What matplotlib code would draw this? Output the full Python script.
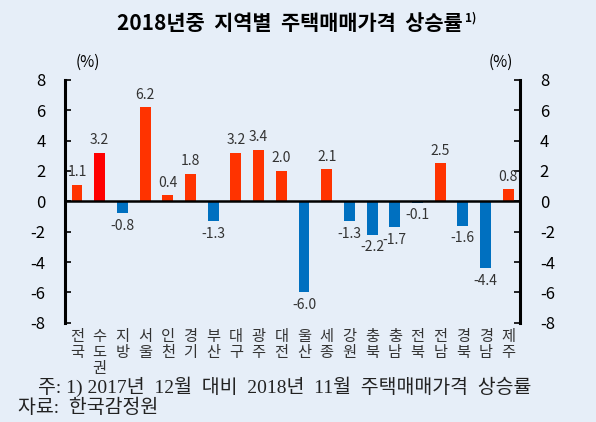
import matplotlib
matplotlib.use("Agg")
import matplotlib.pyplot as plt
import numpy as np

plt.rcParams['font.family'] = ['Noto Sans CJK KR', 'DejaVu Sans']

REGIONS = ["전국", "수도권", "지방", "서울", "인천", "경기", "부산", "대구", "광주", "대전",
           "울산", "세종", "강원", "충북", "충남", "전북", "전남", "경북", "경남", "제주"]
RATES = [1.1, 3.2, -0.8, 6.2, 0.4, 1.8, -1.3, 3.2, 3.4, 2.0,
         -6.0, 2.1, -1.3, -2.2, -1.7, -0.1, 2.5, -1.6, -4.4, 0.8]
Y_TICKS = [-8, -6, -4, -2, 0, 2, 4, 6, 8]

TITLE = "2018년중  지역별  주택매매가격  상승률"
TITLE_SUP = "1)"
NOTE = "주: 1) 2017년  12월  대비  2018년  11월  주택매매가격  상승률"
SOURCE = "자료:  한국감정원"

BG = '#e6eef8'
RED = '#ff3300'
RED_METRO = '#ff0000'
BLUE = '#0070c0'


def main():
    fig = plt.figure(figsize=(5.96, 4.22), dpi=100, facecolor=BG)
    ax = fig.add_axes([0.109, 0.235, 0.764, 0.576])
    ax.set_facecolor(BG)

    x = np.arange(len(REGIONS))
    colors = []
    for name, v in zip(REGIONS, RATES):
        if v < 0:
            colors.append(BLUE)
        elif name == "수도권":
            colors.append(RED_METRO)
        else:
            colors.append(RED)
    ax.bar(x, RATES, width=0.48, color=colors, zorder=2)
    ax.axhline(0, color='black', lw=1.8, zorder=3)

    # value labels
    for xi, v in zip(x, RATES):
        if v >= 0:
            ax.annotate(f"{v:.1f}", (xi, v), xytext=(0, 4), textcoords='offset points',
                        ha='center', va='bottom', fontsize=10, color='#333333')
        else:
            ax.annotate(f"{v:.1f}", (xi, v), xytext=(0, -4), textcoords='offset points',
                        ha='center', va='top', fontsize=10, color='#333333')

    ax.set_xlim(-0.53, 19.53)
    ax.set_ylim(-8, 8)
    ax.set_yticks(Y_TICKS)
    ax.set_yticklabels([str(t) for t in Y_TICKS])
    ax.tick_params(axis='y', direction='in', length=4, width=1.2, labelsize=12,
                   pad=14, left=True, right=True, labelleft=True, labelright=True,
                   colors='black')
    ax.tick_params(axis='x', length=0, pad=4)
    ax.set_xticks(x)
    ax.set_xticklabels(["\n".join(n) for n in REGIONS], fontsize=11,
                       linespacing=0.92, color='#333333', va='top')

    for side in ['top', 'bottom']:
        ax.spines[side].set_visible(False)
    for side in ['left', 'right']:
        ax.spines[side].set_linewidth(2.2)

    fig.text(0.148, 0.852, "(%)", ha='center', va='center', fontsize=11)
    fig.text(0.84, 0.852, "(%)", ha='center', va='center', fontsize=11)

    # title with superscript footnote mark
    title = fig.text(0.487, 0.945, TITLE, ha='center', va='center', fontsize=15,
                     fontweight='bold')
    fig.canvas.draw()
    bb = title.get_window_extent().transformed(fig.transFigure.inverted())
    fig.text(bb.x1 + 0.003, bb.y1 - 0.012, TITLE_SUP, ha='left', va='center',
             fontsize=8.5, fontweight='bold')

    fig.text(0.064, 0.083, NOTE, ha='left', va='center', fontsize=14,
             family=['Liberation Serif', 'Noto Sans CJK KR'], color='#222222')
    fig.text(0.03, 0.033, SOURCE, ha='left', va='center', fontsize=14,
             family=['Liberation Serif', 'Noto Sans CJK KR'], color='#222222')

    fig.savefig("out.png", dpi=100, facecolor=BG)


if __name__ == '__main__':
    main()
